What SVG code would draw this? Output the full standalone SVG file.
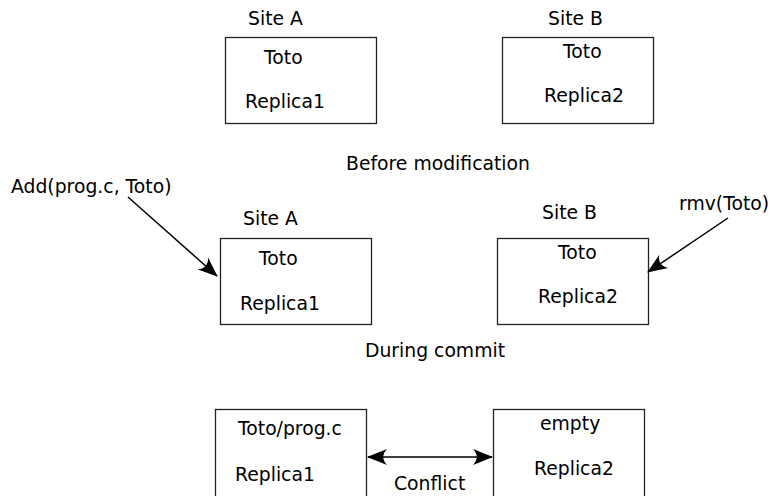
<svg xmlns="http://www.w3.org/2000/svg" width="772" height="496" viewBox="0 0 772 496">
<style>
text{font-family:"DejaVu Sans","Liberation Sans",sans-serif;font-size:18.8px;fill:#000}
.box{fill:#fff;stroke:#222;stroke-width:1.3}
.conn{fill:none;stroke:#000;stroke-width:1.5}
</style>
<defs>
<marker id="ah" markerUnits="userSpaceOnUse" viewBox="-22 -10 24 20" refX="0" refY="0" markerWidth="24" markerHeight="20" orient="auto-start-reverse">
<path d="M1,0 L-19,-8 C-14,-3 -14,3 -19,8 Z" fill="#000"/>
</marker>
</defs>
<rect width="772" height="496" fill="#fff"/>
<g id="topA">
<text x="248" y="25">Site A</text>
<rect class="box" x="225.5" y="37.5" width="151" height="86"/>
<text x="264" y="64">Toto</text>
<text x="245" y="108">Replica1</text>
</g>
<g id="topB">
<text x="548" y="25">Site B</text>
<rect class="box" x="502.5" y="37.5" width="151" height="86"/>
<text x="563" y="58">Toto</text>
<text x="544" y="102">Replica2</text>
</g>
<text id="before" x="438" y="170" text-anchor="middle">Before modification</text>
<g id="midA">
<text x="243" y="225">Site A</text>
<rect class="box" x="220.5" y="238.5" width="151" height="86"/>
<text x="259" y="265">Toto</text>
<text x="240" y="310">Replica1</text>
</g>
<g id="midB">
<text x="542" y="219">Site B</text>
<rect class="box" x="497.5" y="238.5" width="151" height="86"/>
<text x="558" y="259">Toto</text>
<text x="538" y="303">Replica2</text>
</g>
<g id="addLabel"><text x="11" y="193">Add(prog.c, Toto)</text></g>
<g id="rmvLabel"><text x="679" y="210">rmv(Toto)</text></g>
<text id="during" x="435" y="357" text-anchor="middle">During commit</text>
<g id="botA">
<rect class="box" x="215.5" y="409.5" width="151" height="90"/>
<text x="238" y="435">Toto/prog.c</text>
<text x="235" y="481">Replica1</text>
</g>
<g id="botB">
<rect class="box" x="493.5" y="409.5" width="151" height="90"/>
<text x="540" y="430">empty</text>
<text x="534" y="475">Replica2</text>
</g>
<g id="connectors">
<path class="conn" d="M128,197 L217,276" marker-end="url(#ah)"/>
<path class="conn" d="M728,218 L648,272" marker-end="url(#ah)"/>
<path class="conn" d="M368,457 L492,457" marker-start="url(#ah)" marker-end="url(#ah)"/>
<text x="394" y="490">Conflict</text>
</g>
</svg>
